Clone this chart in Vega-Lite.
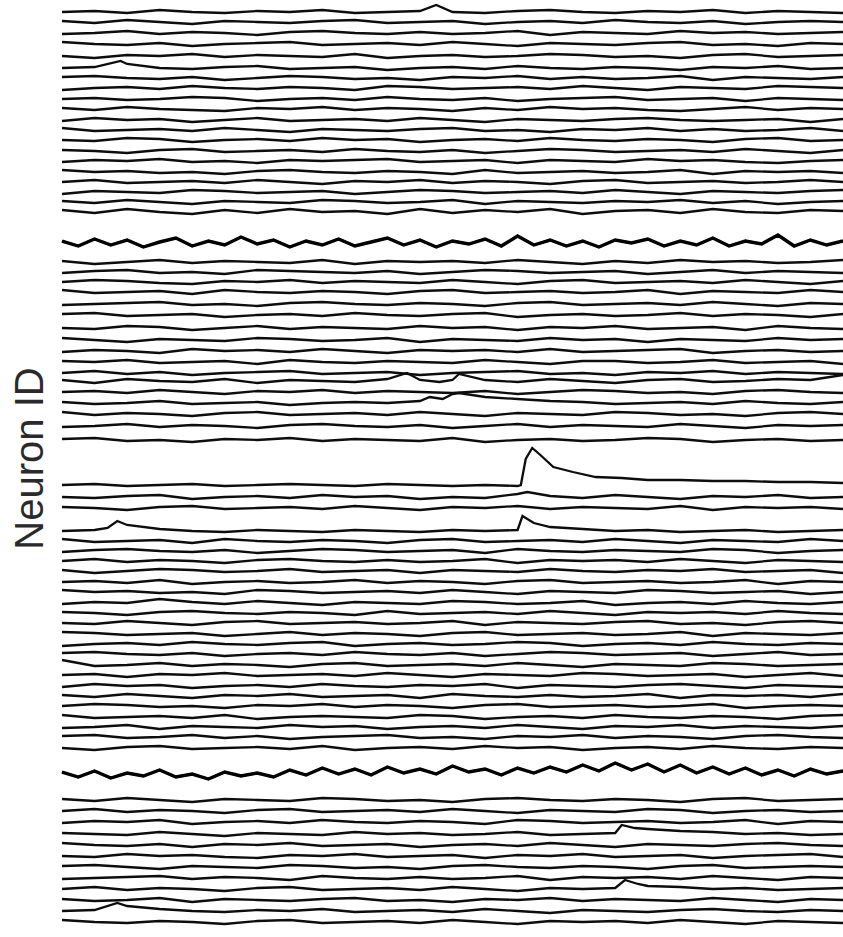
{"$schema":"https://vega.github.io/schema/vega-lite/v6.json","width":781,"height":937,"autosize":"none","padding":{"left":62,"top":0,"right":0,"bottom":0},"background":"white","config":{"view":{"stroke":null}},
"data":{"values":[
{"n":1,"t":0,"v":925},{"n":1,"t":1,"v":926},{"n":1,"t":2,"v":924},{"n":1,"t":3,"v":927},{"n":1,"t":4,"v":925},{"n":1,"t":5,"v":924},{"n":1,"t":6,"v":926},{"n":1,"t":7,"v":925},{"n":1,"t":8,"v":927},{"n":1,"t":9,"v":924},{"n":1,"t":10,"v":925},{"n":1,"t":11,"v":926},{"n":1,"t":11.5,"v":932},{"n":1,"t":12,"v":925},{"n":1,"t":13,"v":924},{"n":1,"t":14,"v":926},{"n":1,"t":15,"v":927},{"n":1,"t":16,"v":925},{"n":1,"t":17,"v":924},{"n":1,"t":18,"v":926},{"n":1,"t":19,"v":925},{"n":1,"t":20,"v":927},{"n":1,"t":21,"v":924},{"n":1,"t":22,"v":926},{"n":1,"t":23,"v":925},{"n":1,"t":24,"v":924},
{"n":2,"t":0,"v":916},{"n":2,"t":1,"v":914},{"n":2,"t":2,"v":917},{"n":2,"t":3,"v":915},{"n":2,"t":4,"v":913},{"n":2,"t":5,"v":916},{"n":2,"t":6,"v":915},{"n":2,"t":7,"v":914},{"n":2,"t":8,"v":916},{"n":2,"t":9,"v":917},{"n":2,"t":10,"v":914},{"n":2,"t":11,"v":915},{"n":2,"t":12,"v":916},{"n":2,"t":13,"v":913},{"n":2,"t":14,"v":915},{"n":2,"t":15,"v":916},{"n":2,"t":16,"v":914},{"n":2,"t":17,"v":917},{"n":2,"t":18,"v":915},{"n":2,"t":19,"v":914},{"n":2,"t":20,"v":916},{"n":2,"t":21,"v":913},{"n":2,"t":22,"v":915},{"n":2,"t":23,"v":916},{"n":2,"t":24,"v":915},
{"n":3,"t":0,"v":903},{"n":3,"t":1,"v":904},{"n":3,"t":2,"v":906},{"n":3,"t":3,"v":903},{"n":3,"t":4,"v":905},{"n":3,"t":5,"v":904},{"n":3,"t":6,"v":902},{"n":3,"t":7,"v":905},{"n":3,"t":8,"v":906},{"n":3,"t":9,"v":904},{"n":3,"t":10,"v":903},{"n":3,"t":11,"v":905},{"n":3,"t":12,"v":903},{"n":3,"t":13,"v":904},{"n":3,"t":14,"v":906},{"n":3,"t":15,"v":902},{"n":3,"t":16,"v":905},{"n":3,"t":17,"v":904},{"n":3,"t":18,"v":903},{"n":3,"t":19,"v":906},{"n":3,"t":20,"v":904},{"n":3,"t":21,"v":905},{"n":3,"t":22,"v":903},{"n":3,"t":23,"v":904},{"n":3,"t":24,"v":905},
{"n":4,"t":0,"v":895},{"n":4,"t":1,"v":893},{"n":4,"t":2,"v":892},{"n":4,"t":3,"v":894},{"n":4,"t":4,"v":891},{"n":4,"t":5,"v":893},{"n":4,"t":6,"v":894},{"n":4,"t":7,"v":895},{"n":4,"t":8,"v":892},{"n":4,"t":9,"v":893},{"n":4,"t":10,"v":894},{"n":4,"t":11,"v":892},{"n":4,"t":12,"v":895},{"n":4,"t":13,"v":893},{"n":4,"t":14,"v":891},{"n":4,"t":15,"v":894},{"n":4,"t":16,"v":893},{"n":4,"t":17,"v":892},{"n":4,"t":18,"v":894},{"n":4,"t":19,"v":895},{"n":4,"t":20,"v":892},{"n":4,"t":21,"v":893},{"n":4,"t":22,"v":891},{"n":4,"t":23,"v":894},{"n":4,"t":24,"v":893},
{"n":5,"t":0,"v":881},{"n":5,"t":1,"v":879},{"n":5,"t":2,"v":882},{"n":5,"t":3,"v":881},{"n":5,"t":4,"v":883},{"n":5,"t":5,"v":880},{"n":5,"t":6,"v":882},{"n":5,"t":7,"v":881},{"n":5,"t":8,"v":880},{"n":5,"t":9,"v":883},{"n":5,"t":10,"v":879},{"n":5,"t":11,"v":881},{"n":5,"t":12,"v":882},{"n":5,"t":13,"v":880},{"n":5,"t":14,"v":881},{"n":5,"t":15,"v":883},{"n":5,"t":16,"v":882},{"n":5,"t":17,"v":880},{"n":5,"t":18,"v":881},{"n":5,"t":19,"v":879},{"n":5,"t":20,"v":882},{"n":5,"t":21,"v":883},{"n":5,"t":22,"v":880},{"n":5,"t":23,"v":881},{"n":5,"t":24,"v":882},
{"n":6,"t":0,"v":869},{"n":6,"t":1,"v":870},{"n":6,"t":1.8,"v":876},{"n":6,"t":2,"v":873},{"n":6,"t":3,"v":869},{"n":6,"t":4,"v":868},{"n":6,"t":5,"v":870},{"n":6,"t":6,"v":871},{"n":6,"t":7,"v":868},{"n":6,"t":8,"v":869},{"n":6,"t":9,"v":870},{"n":6,"t":10,"v":867},{"n":6,"t":11,"v":869},{"n":6,"t":12,"v":870},{"n":6,"t":13,"v":868},{"n":6,"t":14,"v":871},{"n":6,"t":15,"v":869},{"n":6,"t":16,"v":868},{"n":6,"t":17,"v":870},{"n":6,"t":18,"v":869},{"n":6,"t":19,"v":867},{"n":6,"t":20,"v":870},{"n":6,"t":21,"v":869},{"n":6,"t":22,"v":871},{"n":6,"t":23,"v":868},{"n":6,"t":24,"v":869},
{"n":7,"t":0,"v":860},{"n":7,"t":1,"v":861},{"n":7,"t":2,"v":859},{"n":7,"t":3,"v":858},{"n":7,"t":4,"v":860},{"n":7,"t":5,"v":857},{"n":7,"t":6,"v":859},{"n":7,"t":7,"v":861},{"n":7,"t":8,"v":860},{"n":7,"t":9,"v":858},{"n":7,"t":10,"v":859},{"n":7,"t":11,"v":857},{"n":7,"t":12,"v":860},{"n":7,"t":13,"v":859},{"n":7,"t":14,"v":861},{"n":7,"t":15,"v":858},{"n":7,"t":16,"v":860},{"n":7,"t":17,"v":858},{"n":7,"t":18,"v":859},{"n":7,"t":19,"v":861},{"n":7,"t":20,"v":857},{"n":7,"t":21,"v":860},{"n":7,"t":22,"v":859},{"n":7,"t":23,"v":858},{"n":7,"t":24,"v":860},
{"n":8,"t":0,"v":847},{"n":8,"t":1,"v":849},{"n":8,"t":2,"v":850},{"n":8,"t":3,"v":848},{"n":8,"t":4,"v":851},{"n":8,"t":5,"v":849},{"n":8,"t":6,"v":848},{"n":8,"t":7,"v":850},{"n":8,"t":8,"v":849},{"n":8,"t":9,"v":847},{"n":8,"t":10,"v":851},{"n":8,"t":11,"v":850},{"n":8,"t":12,"v":848},{"n":8,"t":13,"v":849},{"n":8,"t":14,"v":850},{"n":8,"t":15,"v":848},{"n":8,"t":16,"v":851},{"n":8,"t":17,"v":849},{"n":8,"t":18,"v":847},{"n":8,"t":19,"v":850},{"n":8,"t":20,"v":849},{"n":8,"t":21,"v":848},{"n":8,"t":22,"v":851},{"n":8,"t":23,"v":850},{"n":8,"t":24,"v":849},
{"n":9,"t":0,"v":838},{"n":9,"t":1,"v":839},{"n":9,"t":2,"v":837},{"n":9,"t":3,"v":838},{"n":9,"t":4,"v":840},{"n":9,"t":5,"v":839},{"n":9,"t":6,"v":836},{"n":9,"t":7,"v":838},{"n":9,"t":8,"v":839},{"n":9,"t":9,"v":837},{"n":9,"t":10,"v":840},{"n":9,"t":11,"v":838},{"n":9,"t":12,"v":837},{"n":9,"t":13,"v":839},{"n":9,"t":14,"v":836},{"n":9,"t":15,"v":838},{"n":9,"t":16,"v":839},{"n":9,"t":17,"v":840},{"n":9,"t":18,"v":837},{"n":9,"t":19,"v":838},{"n":9,"t":20,"v":839},{"n":9,"t":21,"v":836},{"n":9,"t":22,"v":839},{"n":9,"t":23,"v":838},{"n":9,"t":24,"v":837},
{"n":10,"t":0,"v":829},{"n":10,"t":1,"v":827},{"n":10,"t":2,"v":830},{"n":10,"t":3,"v":828},{"n":10,"t":4,"v":827},{"n":10,"t":5,"v":826},{"n":10,"t":6,"v":829},{"n":10,"t":7,"v":828},{"n":10,"t":8,"v":830},{"n":10,"t":9,"v":827},{"n":10,"t":10,"v":829},{"n":10,"t":11,"v":828},{"n":10,"t":12,"v":826},{"n":10,"t":13,"v":829},{"n":10,"t":14,"v":827},{"n":10,"t":15,"v":830},{"n":10,"t":16,"v":828},{"n":10,"t":17,"v":829},{"n":10,"t":18,"v":827},{"n":10,"t":19,"v":826},{"n":10,"t":20,"v":828},{"n":10,"t":21,"v":830},{"n":10,"t":22,"v":827},{"n":10,"t":23,"v":829},{"n":10,"t":24,"v":828},
{"n":11,"t":0,"v":816},{"n":11,"t":1,"v":819},{"n":11,"t":2,"v":817},{"n":11,"t":3,"v":818},{"n":11,"t":4,"v":815},{"n":11,"t":5,"v":817},{"n":11,"t":6,"v":819},{"n":11,"t":7,"v":816},{"n":11,"t":8,"v":817},{"n":11,"t":9,"v":818},{"n":11,"t":10,"v":816},{"n":11,"t":11,"v":819},{"n":11,"t":12,"v":817},{"n":11,"t":13,"v":815},{"n":11,"t":14,"v":818},{"n":11,"t":15,"v":817},{"n":11,"t":16,"v":816},{"n":11,"t":17,"v":818},{"n":11,"t":18,"v":819},{"n":11,"t":19,"v":817},{"n":11,"t":20,"v":816},{"n":11,"t":21,"v":817},{"n":11,"t":22,"v":818},{"n":11,"t":23,"v":815},{"n":11,"t":24,"v":818},
{"n":12,"t":0,"v":809},{"n":12,"t":1,"v":806},{"n":12,"t":2,"v":807},{"n":12,"t":3,"v":808},{"n":12,"t":4,"v":806},{"n":12,"t":5,"v":809},{"n":12,"t":6,"v":807},{"n":12,"t":7,"v":805},{"n":12,"t":8,"v":808},{"n":12,"t":9,"v":807},{"n":12,"t":10,"v":806},{"n":12,"t":11,"v":808},{"n":12,"t":12,"v":809},{"n":12,"t":13,"v":806},{"n":12,"t":14,"v":807},{"n":12,"t":15,"v":805},{"n":12,"t":16,"v":808},{"n":12,"t":17,"v":807},{"n":12,"t":18,"v":809},{"n":12,"t":19,"v":806},{"n":12,"t":20,"v":808},{"n":12,"t":21,"v":806},{"n":12,"t":22,"v":807},{"n":12,"t":23,"v":809},{"n":12,"t":24,"v":806},
{"n":13,"t":0,"v":797},{"n":13,"t":1,"v":796},{"n":13,"t":2,"v":799},{"n":13,"t":3,"v":798},{"n":13,"t":4,"v":795},{"n":13,"t":5,"v":797},{"n":13,"t":6,"v":798},{"n":13,"t":7,"v":796},{"n":13,"t":8,"v":799},{"n":13,"t":9,"v":797},{"n":13,"t":10,"v":798},{"n":13,"t":11,"v":795},{"n":13,"t":12,"v":797},{"n":13,"t":13,"v":798},{"n":13,"t":14,"v":796},{"n":13,"t":15,"v":799},{"n":13,"t":16,"v":797},{"n":13,"t":17,"v":796},{"n":13,"t":18,"v":798},{"n":13,"t":19,"v":797},{"n":13,"t":20,"v":795},{"n":13,"t":21,"v":798},{"n":13,"t":22,"v":799},{"n":13,"t":23,"v":796},{"n":13,"t":24,"v":797},
{"n":14,"t":0,"v":787},{"n":14,"t":1,"v":786},{"n":14,"t":2,"v":784},{"n":14,"t":3,"v":787},{"n":14,"t":4,"v":788},{"n":14,"t":5,"v":785},{"n":14,"t":6,"v":786},{"n":14,"t":7,"v":787},{"n":14,"t":8,"v":785},{"n":14,"t":9,"v":788},{"n":14,"t":10,"v":786},{"n":14,"t":11,"v":785},{"n":14,"t":12,"v":787},{"n":14,"t":13,"v":784},{"n":14,"t":14,"v":786},{"n":14,"t":15,"v":788},{"n":14,"t":16,"v":787},{"n":14,"t":17,"v":785},{"n":14,"t":18,"v":786},{"n":14,"t":19,"v":787},{"n":14,"t":20,"v":785},{"n":14,"t":21,"v":788},{"n":14,"t":22,"v":786},{"n":14,"t":23,"v":784},{"n":14,"t":24,"v":787},
{"n":15,"t":0,"v":775},{"n":15,"t":1,"v":777},{"n":15,"t":2,"v":776},{"n":15,"t":3,"v":778},{"n":15,"t":4,"v":775},{"n":15,"t":5,"v":776},{"n":15,"t":6,"v":774},{"n":15,"t":7,"v":777},{"n":15,"t":8,"v":776},{"n":15,"t":9,"v":777},{"n":15,"t":10,"v":778},{"n":15,"t":11,"v":775},{"n":15,"t":12,"v":776},{"n":15,"t":13,"v":777},{"n":15,"t":14,"v":774},{"n":15,"t":15,"v":777},{"n":15,"t":16,"v":776},{"n":15,"t":17,"v":775},{"n":15,"t":18,"v":778},{"n":15,"t":19,"v":776},{"n":15,"t":20,"v":777},{"n":15,"t":21,"v":775},{"n":15,"t":22,"v":774},{"n":15,"t":23,"v":776},{"n":15,"t":24,"v":777},
{"n":16,"t":0,"v":767},{"n":16,"t":1,"v":765},{"n":16,"t":2,"v":766},{"n":16,"t":3,"v":764},{"n":16,"t":4,"v":765},{"n":16,"t":5,"v":763},{"n":16,"t":6,"v":766},{"n":16,"t":7,"v":767},{"n":16,"t":8,"v":765},{"n":16,"t":9,"v":764},{"n":16,"t":10,"v":766},{"n":16,"t":11,"v":765},{"n":16,"t":12,"v":763},{"n":16,"t":13,"v":767},{"n":16,"t":14,"v":764},{"n":16,"t":15,"v":765},{"n":16,"t":16,"v":766},{"n":16,"t":17,"v":764},{"n":16,"t":18,"v":765},{"n":16,"t":19,"v":767},{"n":16,"t":20,"v":763},{"n":16,"t":21,"v":766},{"n":16,"t":22,"v":765},{"n":16,"t":23,"v":766},{"n":16,"t":24,"v":764},
{"n":17,"t":0,"v":755},{"n":17,"t":1,"v":757},{"n":17,"t":2,"v":754},{"n":17,"t":3,"v":755},{"n":17,"t":4,"v":756},{"n":17,"t":5,"v":754},{"n":17,"t":6,"v":757},{"n":17,"t":7,"v":755},{"n":17,"t":8,"v":753},{"n":17,"t":9,"v":756},{"n":17,"t":10,"v":755},{"n":17,"t":11,"v":757},{"n":17,"t":12,"v":754},{"n":17,"t":13,"v":756},{"n":17,"t":14,"v":755},{"n":17,"t":15,"v":753},{"n":17,"t":16,"v":756},{"n":17,"t":17,"v":757},{"n":17,"t":18,"v":754},{"n":17,"t":19,"v":755},{"n":17,"t":20,"v":756},{"n":17,"t":21,"v":754},{"n":17,"t":22,"v":755},{"n":17,"t":23,"v":757},{"n":17,"t":24,"v":755},
{"n":18,"t":0,"v":743},{"n":18,"t":1,"v":746},{"n":18,"t":2,"v":745},{"n":18,"t":3,"v":744},{"n":18,"t":4,"v":747},{"n":18,"t":5,"v":746},{"n":18,"t":6,"v":744},{"n":18,"t":7,"v":745},{"n":18,"t":8,"v":746},{"n":18,"t":9,"v":743},{"n":18,"t":10,"v":745},{"n":18,"t":11,"v":747},{"n":18,"t":12,"v":746},{"n":18,"t":13,"v":744},{"n":18,"t":14,"v":745},{"n":18,"t":15,"v":746},{"n":18,"t":16,"v":744},{"n":18,"t":17,"v":747},{"n":18,"t":18,"v":745},{"n":18,"t":19,"v":743},{"n":18,"t":20,"v":746},{"n":18,"t":21,"v":745},{"n":18,"t":22,"v":744},{"n":18,"t":23,"v":746},{"n":18,"t":24,"v":747},
{"n":19,"t":0,"v":736},{"n":19,"t":1,"v":734},{"n":19,"t":2,"v":737},{"n":19,"t":3,"v":735},{"n":19,"t":4,"v":733},{"n":19,"t":5,"v":736},{"n":19,"t":6,"v":735},{"n":19,"t":7,"v":734},{"n":19,"t":8,"v":737},{"n":19,"t":9,"v":736},{"n":19,"t":10,"v":734},{"n":19,"t":11,"v":735},{"n":19,"t":12,"v":737},{"n":19,"t":13,"v":733},{"n":19,"t":14,"v":736},{"n":19,"t":15,"v":735},{"n":19,"t":16,"v":734},{"n":19,"t":17,"v":736},{"n":19,"t":18,"v":735},{"n":19,"t":19,"v":737},{"n":19,"t":20,"v":734},{"n":19,"t":21,"v":736},{"n":19,"t":22,"v":733},{"n":19,"t":23,"v":735},{"n":19,"t":24,"v":736},
{"n":20,"t":0,"v":727},{"n":20,"t":1,"v":724},{"n":20,"t":2,"v":728},{"n":20,"t":3,"v":725},{"n":20,"t":4,"v":723},{"n":20,"t":5,"v":727},{"n":20,"t":6,"v":724},{"n":20,"t":7,"v":728},{"n":20,"t":8,"v":725},{"n":20,"t":9,"v":726},{"n":20,"t":10,"v":723},{"n":20,"t":11,"v":728},{"n":20,"t":12,"v":724},{"n":20,"t":13,"v":727},{"n":20,"t":14,"v":725},{"n":20,"t":15,"v":728},{"n":20,"t":16,"v":723},{"n":20,"t":17,"v":726},{"n":20,"t":18,"v":727},{"n":20,"t":19,"v":724},{"n":20,"t":20,"v":728},{"n":20,"t":21,"v":725},{"n":20,"t":22,"v":724},{"n":20,"t":23,"v":727},{"n":20,"t":24,"v":726},
{"n":21,"t":0,"v":696},{"n":21,"t":0.5,"v":691},{"n":21,"t":1,"v":698},{"n":21,"t":1.5,"v":692},{"n":21,"t":2,"v":697},{"n":21,"t":2.5,"v":690},{"n":21,"t":3,"v":695},{"n":21,"t":3.5,"v":699},{"n":21,"t":4,"v":691},{"n":21,"t":4.5,"v":696},{"n":21,"t":5,"v":692},{"n":21,"t":5.5,"v":700},{"n":21,"t":6,"v":693},{"n":21,"t":6.5,"v":697},{"n":21,"t":7,"v":690},{"n":21,"t":7.5,"v":696},{"n":21,"t":8,"v":692},{"n":21,"t":8.5,"v":698},{"n":21,"t":9,"v":691},{"n":21,"t":9.5,"v":695},{"n":21,"t":10,"v":699},{"n":21,"t":10.5,"v":692},{"n":21,"t":11,"v":697},{"n":21,"t":11.5,"v":690},{"n":21,"t":12,"v":696},{"n":21,"t":12.5,"v":693},{"n":21,"t":13,"v":698},{"n":21,"t":13.5,"v":691},{"n":21,"t":14,"v":701},{"n":21,"t":14.5,"v":692},{"n":21,"t":15,"v":697},{"n":21,"t":15.5,"v":691},{"n":21,"t":16,"v":696},{"n":21,"t":16.5,"v":690},{"n":21,"t":17,"v":697},{"n":21,"t":17.5,"v":694},{"n":21,"t":18,"v":698},{"n":21,"t":18.5,"v":691},{"n":21,"t":19,"v":696},{"n":21,"t":19.5,"v":692},{"n":21,"t":20,"v":699},{"n":21,"t":20.5,"v":691},{"n":21,"t":21,"v":696},{"n":21,"t":21.5,"v":693},{"n":21,"t":22,"v":702},{"n":21,"t":22.5,"v":691},{"n":21,"t":23,"v":697},{"n":21,"t":23.5,"v":692},{"n":21,"t":24,"v":696},
{"n":22,"t":0,"v":676},{"n":22,"t":1,"v":673},{"n":22,"t":2,"v":675},{"n":22,"t":3,"v":677},{"n":22,"t":4,"v":674},{"n":22,"t":5,"v":676},{"n":22,"t":6,"v":675},{"n":22,"t":7,"v":674},{"n":22,"t":8,"v":677},{"n":22,"t":9,"v":673},{"n":22,"t":10,"v":676},{"n":22,"t":11,"v":675},{"n":22,"t":12,"v":676},{"n":22,"t":13,"v":674},{"n":22,"t":14,"v":677},{"n":22,"t":15,"v":675},{"n":22,"t":16,"v":673},{"n":22,"t":17,"v":676},{"n":22,"t":18,"v":674},{"n":22,"t":19,"v":677},{"n":22,"t":20,"v":675},{"n":22,"t":21,"v":676},{"n":22,"t":22,"v":674},{"n":22,"t":23,"v":675},{"n":22,"t":24,"v":677},
{"n":23,"t":0,"v":664},{"n":23,"t":1,"v":666},{"n":23,"t":2,"v":667},{"n":23,"t":3,"v":664},{"n":23,"t":4,"v":665},{"n":23,"t":5,"v":663},{"n":23,"t":6,"v":667},{"n":23,"t":7,"v":666},{"n":23,"t":8,"v":665},{"n":23,"t":9,"v":664},{"n":23,"t":10,"v":666},{"n":23,"t":11,"v":663},{"n":23,"t":12,"v":665},{"n":23,"t":13,"v":667},{"n":23,"t":14,"v":666},{"n":23,"t":15,"v":664},{"n":23,"t":16,"v":665},{"n":23,"t":17,"v":666},{"n":23,"t":18,"v":663},{"n":23,"t":19,"v":665},{"n":23,"t":20,"v":667},{"n":23,"t":21,"v":664},{"n":23,"t":22,"v":666},{"n":23,"t":23,"v":665},{"n":23,"t":24,"v":664},
{"n":24,"t":0,"v":655},{"n":24,"t":1,"v":657},{"n":24,"t":2,"v":656},{"n":24,"t":3,"v":654},{"n":24,"t":4,"v":653},{"n":24,"t":5,"v":656},{"n":24,"t":6,"v":655},{"n":24,"t":7,"v":657},{"n":24,"t":8,"v":654},{"n":24,"t":9,"v":656},{"n":24,"t":10,"v":655},{"n":24,"t":11,"v":654},{"n":24,"t":12,"v":657},{"n":24,"t":13,"v":655},{"n":24,"t":14,"v":653},{"n":24,"t":15,"v":656},{"n":24,"t":16,"v":657},{"n":24,"t":17,"v":654},{"n":24,"t":18,"v":655},{"n":24,"t":19,"v":656},{"n":24,"t":20,"v":654},{"n":24,"t":21,"v":657},{"n":24,"t":22,"v":655},{"n":24,"t":23,"v":653},{"n":24,"t":24,"v":656},
{"n":25,"t":0,"v":647},{"n":25,"t":1,"v":644},{"n":25,"t":2,"v":645},{"n":25,"t":3,"v":646},{"n":25,"t":4,"v":643},{"n":25,"t":5,"v":647},{"n":25,"t":6,"v":645},{"n":25,"t":7,"v":644},{"n":25,"t":8,"v":646},{"n":25,"t":9,"v":645},{"n":25,"t":10,"v":643},{"n":25,"t":11,"v":646},{"n":25,"t":12,"v":647},{"n":25,"t":13,"v":644},{"n":25,"t":14,"v":645},{"n":25,"t":15,"v":646},{"n":25,"t":16,"v":644},{"n":25,"t":17,"v":645},{"n":25,"t":18,"v":647},{"n":25,"t":19,"v":643},{"n":25,"t":20,"v":646},{"n":25,"t":21,"v":645},{"n":25,"t":22,"v":644},{"n":25,"t":23,"v":647},{"n":25,"t":24,"v":645},
{"n":26,"t":0,"v":632},{"n":26,"t":1,"v":633},{"n":26,"t":2,"v":634},{"n":26,"t":3,"v":635},{"n":26,"t":4,"v":632},{"n":26,"t":5,"v":633},{"n":26,"t":6,"v":631},{"n":26,"t":7,"v":634},{"n":26,"t":8,"v":635},{"n":26,"t":9,"v":633},{"n":26,"t":10,"v":632},{"n":26,"t":11,"v":634},{"n":26,"t":12,"v":633},{"n":26,"t":13,"v":631},{"n":26,"t":14,"v":634},{"n":26,"t":15,"v":635},{"n":26,"t":16,"v":632},{"n":26,"t":17,"v":633},{"n":26,"t":18,"v":634},{"n":26,"t":19,"v":632},{"n":26,"t":20,"v":635},{"n":26,"t":21,"v":633},{"n":26,"t":22,"v":631},{"n":26,"t":23,"v":634},{"n":26,"t":24,"v":633},
{"n":27,"t":0,"v":623},{"n":27,"t":1,"v":624},{"n":27,"t":2,"v":621},{"n":27,"t":3,"v":622},{"n":27,"t":4,"v":623},{"n":27,"t":5,"v":620},{"n":27,"t":6,"v":622},{"n":27,"t":7,"v":623},{"n":27,"t":8,"v":621},{"n":27,"t":9,"v":624},{"n":27,"t":10,"v":622},{"n":27,"t":11,"v":621},{"n":27,"t":12,"v":623},{"n":27,"t":13,"v":624},{"n":27,"t":14,"v":620},{"n":27,"t":15,"v":622},{"n":27,"t":16,"v":623},{"n":27,"t":17,"v":621},{"n":27,"t":18,"v":622},{"n":27,"t":19,"v":624},{"n":27,"t":20,"v":621},{"n":27,"t":21,"v":623},{"n":27,"t":22,"v":622},{"n":27,"t":23,"v":620},{"n":27,"t":24,"v":623},
{"n":28,"t":0,"v":609},{"n":28,"t":1,"v":608},{"n":28,"t":2,"v":611},{"n":28,"t":3,"v":610},{"n":28,"t":4,"v":607},{"n":28,"t":5,"v":609},{"n":28,"t":6,"v":611},{"n":28,"t":7,"v":608},{"n":28,"t":8,"v":610},{"n":28,"t":9,"v":609},{"n":28,"t":10,"v":608},{"n":28,"t":11,"v":611},{"n":28,"t":12,"v":609},{"n":28,"t":13,"v":610},{"n":28,"t":14,"v":607},{"n":28,"t":15,"v":610},{"n":28,"t":16,"v":609},{"n":28,"t":17,"v":611},{"n":28,"t":18,"v":608},{"n":28,"t":19,"v":609},{"n":28,"t":20,"v":610},{"n":28,"t":21,"v":607},{"n":28,"t":22,"v":611},{"n":28,"t":23,"v":609},{"n":28,"t":24,"v":608},
{"n":29,"t":0,"v":599},{"n":29,"t":1,"v":597},{"n":29,"t":2,"v":595},{"n":29,"t":3,"v":598},{"n":29,"t":4,"v":597},{"n":29,"t":5,"v":596},{"n":29,"t":6,"v":599},{"n":29,"t":7,"v":598},{"n":29,"t":8,"v":596},{"n":29,"t":9,"v":597},{"n":29,"t":10,"v":599},{"n":29,"t":11,"v":595},{"n":29,"t":12,"v":598},{"n":29,"t":13,"v":597},{"n":29,"t":14,"v":596},{"n":29,"t":15,"v":599},{"n":29,"t":16,"v":597},{"n":29,"t":17,"v":598},{"n":29,"t":18,"v":595},{"n":29,"t":19,"v":598},{"n":29,"t":20,"v":597},{"n":29,"t":21,"v":596},{"n":29,"t":22,"v":599},{"n":29,"t":23,"v":597},{"n":29,"t":24,"v":598},
{"n":30,"t":0,"v":585},{"n":30,"t":1,"v":587},{"n":30,"t":2,"v":586},{"n":30,"t":3,"v":584},{"n":30,"t":4,"v":588},{"n":30,"t":5,"v":586},{"n":30,"t":6,"v":587},{"n":30,"t":7,"v":585},{"n":30,"t":8,"v":588},{"n":30,"t":9,"v":586},{"n":30,"t":10,"v":584},{"n":30,"t":11,"v":587},{"n":30,"t":12,"v":586},{"n":30,"t":13,"v":587},{"n":30,"t":14,"v":585},{"n":30,"t":15,"v":588},{"n":30,"t":16,"v":585},{"n":30,"t":17,"v":586},{"n":30,"t":18,"v":587},{"n":30,"t":19,"v":588},{"n":30,"t":20,"v":584},{"n":30,"t":21,"v":586},{"n":30,"t":22,"v":587},{"n":30,"t":23,"v":585},{"n":30,"t":24,"v":586},
{"n":31,"t":0,"v":576},{"n":31,"t":1,"v":575},{"n":31,"t":2,"v":577},{"n":31,"t":3,"v":574},{"n":31,"t":4,"v":575},{"n":31,"t":5,"v":576},{"n":31,"t":6,"v":573},{"n":31,"t":7,"v":577},{"n":31,"t":8,"v":575},{"n":31,"t":9,"v":574},{"n":31,"t":10,"v":576},{"n":31,"t":11,"v":575},{"n":31,"t":12,"v":574},{"n":31,"t":13,"v":577},{"n":31,"t":14,"v":575},{"n":31,"t":15,"v":573},{"n":31,"t":16,"v":576},{"n":31,"t":17,"v":576},{"n":31,"t":18,"v":574},{"n":31,"t":19,"v":575},{"n":31,"t":20,"v":577},{"n":31,"t":21,"v":574},{"n":31,"t":22,"v":575},{"n":31,"t":23,"v":576},{"n":31,"t":24,"v":573},
{"n":32,"t":0,"v":564},{"n":32,"t":1,"v":566},{"n":32,"t":2,"v":563},{"n":32,"t":3,"v":565},{"n":32,"t":4,"v":562},{"n":32,"t":5,"v":564},{"n":32,"t":6,"v":565},{"n":32,"t":7,"v":566},{"n":32,"t":8,"v":563},{"n":32,"t":9,"v":564},{"n":32,"t":10,"v":565},{"n":32,"t":11,"v":562},{"n":32,"t":12,"v":564},{"n":32,"t":13,"v":565},{"n":32,"t":14,"v":566},{"n":32,"t":15,"v":563},{"n":32,"t":16,"v":564},{"n":32,"t":17,"v":562},{"n":32,"t":18,"v":565},{"n":32,"t":19,"v":564},{"n":32,"t":20,"v":566},{"n":32,"t":21,"v":563},{"n":32,"t":22,"v":565},{"n":32,"t":23,"v":564},{"n":32,"t":24,"v":563},
{"n":33,"t":0,"v":557},{"n":33,"t":1,"v":554},{"n":33,"t":2,"v":558},{"n":33,"t":3,"v":556},{"n":33,"t":4,"v":555},{"n":33,"t":5,"v":558},{"n":33,"t":6,"v":554},{"n":33,"t":7,"v":557},{"n":33,"t":8,"v":556},{"n":33,"t":9,"v":555},{"n":33,"t":10,"v":558},{"n":33,"t":10.6,"v":564},{"n":33,"t":11,"v":557},{"n":33,"t":11.6,"v":555},{"n":33,"t":12,"v":557},{"n":33,"t":12.2,"v":563},{"n":33,"t":13,"v":557},{"n":33,"t":14,"v":555},{"n":33,"t":15,"v":558},{"n":33,"t":16,"v":556},{"n":33,"t":17,"v":554},{"n":33,"t":18,"v":557},{"n":33,"t":19,"v":558},{"n":33,"t":20,"v":555},{"n":33,"t":21,"v":556},{"n":33,"t":22,"v":558},{"n":33,"t":23,"v":557},{"n":33,"t":24,"v":562},
{"n":34,"t":0,"v":545},{"n":34,"t":1,"v":546},{"n":34,"t":2,"v":544},{"n":34,"t":3,"v":547},{"n":34,"t":4,"v":545},{"n":34,"t":5,"v":543},{"n":34,"t":6,"v":546},{"n":34,"t":7,"v":545},{"n":34,"t":8,"v":547},{"n":34,"t":9,"v":544},{"n":34,"t":10,"v":546},{"n":34,"t":11,"v":545},{"n":34,"t":12,"v":544},{"n":34,"t":13,"v":546},{"n":34,"t":14,"v":543},{"n":34,"t":15,"v":545},{"n":34,"t":16,"v":547},{"n":34,"t":17,"v":546},{"n":34,"t":18,"v":544},{"n":34,"t":19,"v":545},{"n":34,"t":20,"v":543},{"n":34,"t":21,"v":546},{"n":34,"t":22,"v":547},{"n":34,"t":23,"v":545},{"n":34,"t":24,"v":544},
{"n":35,"t":0,"v":535},{"n":35,"t":1,"v":533},{"n":35,"t":2,"v":534},{"n":35,"t":3,"v":536},{"n":35,"t":4,"v":533},{"n":35,"t":5,"v":534},{"n":35,"t":6,"v":535},{"n":35,"t":7,"v":532},{"n":35,"t":8,"v":534},{"n":35,"t":9,"v":535},{"n":35,"t":10,"v":534},{"n":35,"t":11,"v":536},{"n":35,"t":11.3,"v":540},{"n":35,"t":11.7,"v":538},{"n":35,"t":12,"v":543},{"n":35,"t":12.2,"v":544},{"n":35,"t":13,"v":540},{"n":35,"t":14,"v":538},{"n":35,"t":15,"v":536},{"n":35,"t":16,"v":535},{"n":35,"t":17,"v":533},{"n":35,"t":18,"v":534},{"n":35,"t":19,"v":535},{"n":35,"t":20,"v":533},{"n":35,"t":21,"v":536},{"n":35,"t":22,"v":534},{"n":35,"t":23,"v":533},{"n":35,"t":24,"v":535},
{"n":36,"t":0,"v":525},{"n":36,"t":1,"v":522},{"n":36,"t":2,"v":524},{"n":36,"t":3,"v":523},{"n":36,"t":4,"v":521},{"n":36,"t":5,"v":524},{"n":36,"t":6,"v":525},{"n":36,"t":7,"v":522},{"n":36,"t":8,"v":523},{"n":36,"t":9,"v":524},{"n":36,"t":10,"v":522},{"n":36,"t":11,"v":525},{"n":36,"t":12,"v":523},{"n":36,"t":13,"v":521},{"n":36,"t":14,"v":524},{"n":36,"t":15,"v":523},{"n":36,"t":16,"v":522},{"n":36,"t":17,"v":525},{"n":36,"t":18,"v":524},{"n":36,"t":19,"v":522},{"n":36,"t":20,"v":523},{"n":36,"t":21,"v":521},{"n":36,"t":22,"v":524},{"n":36,"t":23,"v":525},{"n":36,"t":24,"v":523},
{"n":37,"t":0,"v":510},{"n":37,"t":1,"v":511},{"n":37,"t":2,"v":513},{"n":37,"t":3,"v":510},{"n":37,"t":4,"v":512},{"n":37,"t":5,"v":511},{"n":37,"t":6,"v":509},{"n":37,"t":7,"v":512},{"n":37,"t":8,"v":513},{"n":37,"t":9,"v":511},{"n":37,"t":10,"v":510},{"n":37,"t":11,"v":512},{"n":37,"t":12,"v":509},{"n":37,"t":13,"v":511},{"n":37,"t":14,"v":513},{"n":37,"t":15,"v":510},{"n":37,"t":16,"v":512},{"n":37,"t":17,"v":511},{"n":37,"t":18,"v":510},{"n":37,"t":19,"v":513},{"n":37,"t":20,"v":511},{"n":37,"t":21,"v":509},{"n":37,"t":22,"v":512},{"n":37,"t":23,"v":511},{"n":37,"t":24,"v":512},
{"n":38,"t":0,"v":498},{"n":38,"t":1,"v":499},{"n":38,"t":2,"v":496},{"n":38,"t":3,"v":497},{"n":38,"t":4,"v":495},{"n":38,"t":5,"v":498},{"n":38,"t":6,"v":497},{"n":38,"t":7,"v":499},{"n":38,"t":8,"v":496},{"n":38,"t":9,"v":498},{"n":38,"t":10,"v":497},{"n":38,"t":11,"v":496},{"n":38,"t":12,"v":499},{"n":38,"t":13,"v":495},{"n":38,"t":14,"v":497},{"n":38,"t":15,"v":498},{"n":38,"t":16,"v":496},{"n":38,"t":17,"v":497},{"n":38,"t":18,"v":499},{"n":38,"t":19,"v":498},{"n":38,"t":20,"v":495},{"n":38,"t":21,"v":497},{"n":38,"t":22,"v":498},{"n":38,"t":23,"v":496},{"n":38,"t":24,"v":497},
{"n":39,"t":0,"v":452},{"n":39,"t":1,"v":453},{"n":39,"t":2,"v":451},{"n":39,"t":3,"v":452},{"n":39,"t":4,"v":453},{"n":39,"t":5,"v":451},{"n":39,"t":6,"v":452},{"n":39,"t":7,"v":453},{"n":39,"t":8,"v":452},{"n":39,"t":9,"v":451},{"n":39,"t":10,"v":453},{"n":39,"t":11,"v":452},{"n":39,"t":12,"v":451},{"n":39,"t":13,"v":452},{"n":39,"t":14,"v":451},{"n":39,"t":14.1,"v":452},{"n":39,"t":14.25,"v":478},{"n":39,"t":14.45,"v":489},{"n":39,"t":14.7,"v":482},{"n":39,"t":15.1,"v":470},{"n":39,"t":15.7,"v":465},{"n":39,"t":16.4,"v":460},{"n":39,"t":17.2,"v":459},{"n":39,"t":18,"v":457},{"n":39,"t":19,"v":457},{"n":39,"t":20,"v":456},{"n":39,"t":21,"v":456},{"n":39,"t":22,"v":455},{"n":39,"t":23,"v":455},{"n":39,"t":24,"v":454},
{"n":40,"t":0,"v":440},{"n":40,"t":1,"v":439},{"n":40,"t":2,"v":441},{"n":40,"t":3,"v":442},{"n":40,"t":4,"v":438},{"n":40,"t":5,"v":440},{"n":40,"t":6,"v":441},{"n":40,"t":7,"v":439},{"n":40,"t":8,"v":442},{"n":40,"t":9,"v":440},{"n":40,"t":10,"v":441},{"n":40,"t":11,"v":438},{"n":40,"t":12,"v":440},{"n":40,"t":13,"v":439},{"n":40,"t":14,"v":443},{"n":40,"t":14.3,"v":445},{"n":40,"t":15,"v":441},{"n":40,"t":16,"v":439},{"n":40,"t":17,"v":442},{"n":40,"t":18,"v":440},{"n":40,"t":19,"v":438},{"n":40,"t":20,"v":441},{"n":40,"t":21,"v":440},{"n":40,"t":22,"v":442},{"n":40,"t":23,"v":439},{"n":40,"t":24,"v":440},
{"n":41,"t":0,"v":430},{"n":41,"t":1,"v":429},{"n":41,"t":2,"v":427},{"n":41,"t":3,"v":430},{"n":41,"t":4,"v":431},{"n":41,"t":5,"v":428},{"n":41,"t":6,"v":429},{"n":41,"t":7,"v":430},{"n":41,"t":8,"v":428},{"n":41,"t":9,"v":431},{"n":41,"t":10,"v":429},{"n":41,"t":11,"v":427},{"n":41,"t":12,"v":430},{"n":41,"t":13,"v":429},{"n":41,"t":14,"v":431},{"n":41,"t":15,"v":428},{"n":41,"t":16,"v":430},{"n":41,"t":17,"v":429},{"n":41,"t":18,"v":428},{"n":41,"t":19,"v":431},{"n":41,"t":20,"v":427},{"n":41,"t":21,"v":430},{"n":41,"t":22,"v":429},{"n":41,"t":23,"v":430},{"n":41,"t":24,"v":428},
{"n":42,"t":0,"v":406},{"n":42,"t":1,"v":407},{"n":42,"t":1.4,"v":409},{"n":42,"t":1.7,"v":416},{"n":42,"t":2,"v":412},{"n":42,"t":3,"v":408},{"n":42,"t":4,"v":406},{"n":42,"t":5,"v":405},{"n":42,"t":6,"v":407},{"n":42,"t":7,"v":406},{"n":42,"t":8,"v":405},{"n":42,"t":9,"v":407},{"n":42,"t":10,"v":406},{"n":42,"t":11,"v":405},{"n":42,"t":12,"v":407},{"n":42,"t":13,"v":406},{"n":42,"t":14,"v":407},{"n":42,"t":14.15,"v":421},{"n":42,"t":14.5,"v":414},{"n":42,"t":15,"v":410},{"n":42,"t":16,"v":408},{"n":42,"t":17,"v":406},{"n":42,"t":18,"v":407},{"n":42,"t":19,"v":405},{"n":42,"t":20,"v":406},{"n":42,"t":21,"v":407},{"n":42,"t":22,"v":405},{"n":42,"t":23,"v":406},{"n":42,"t":24,"v":407},
{"n":43,"t":0,"v":398},{"n":43,"t":1,"v":395},{"n":43,"t":2,"v":396},{"n":43,"t":3,"v":397},{"n":43,"t":4,"v":394},{"n":43,"t":5,"v":398},{"n":43,"t":6,"v":396},{"n":43,"t":7,"v":395},{"n":43,"t":8,"v":397},{"n":43,"t":9,"v":396},{"n":43,"t":10,"v":394},{"n":43,"t":11,"v":397},{"n":43,"t":12,"v":398},{"n":43,"t":13,"v":395},{"n":43,"t":14,"v":396},{"n":43,"t":15,"v":397},{"n":43,"t":16,"v":395},{"n":43,"t":17,"v":398},{"n":43,"t":18,"v":396},{"n":43,"t":19,"v":394},{"n":43,"t":20,"v":397},{"n":43,"t":21,"v":396},{"n":43,"t":22,"v":395},{"n":43,"t":23,"v":398},{"n":43,"t":24,"v":396},
{"n":44,"t":0,"v":385},{"n":44,"t":1,"v":387},{"n":44,"t":2,"v":388},{"n":44,"t":3,"v":386},{"n":44,"t":4,"v":385},{"n":44,"t":5,"v":387},{"n":44,"t":6,"v":384},{"n":44,"t":7,"v":386},{"n":44,"t":8,"v":388},{"n":44,"t":9,"v":387},{"n":44,"t":10,"v":385},{"n":44,"t":11,"v":386},{"n":44,"t":12,"v":387},{"n":44,"t":13,"v":384},{"n":44,"t":14,"v":388},{"n":44,"t":15,"v":386},{"n":44,"t":16,"v":385},{"n":44,"t":17,"v":387},{"n":44,"t":18,"v":386},{"n":44,"t":19,"v":385},{"n":44,"t":20,"v":388},{"n":44,"t":21,"v":387},{"n":44,"t":22,"v":384},{"n":44,"t":23,"v":386},{"n":44,"t":24,"v":387},
{"n":45,"t":0,"v":376},{"n":45,"t":1,"v":378},{"n":45,"t":2,"v":375},{"n":45,"t":3,"v":377},{"n":45,"t":4,"v":376},{"n":45,"t":5,"v":374},{"n":45,"t":6,"v":377},{"n":45,"t":7,"v":378},{"n":45,"t":8,"v":376},{"n":45,"t":9,"v":375},{"n":45,"t":10,"v":377},{"n":45,"t":11,"v":375},{"n":45,"t":12,"v":376},{"n":45,"t":13,"v":378},{"n":45,"t":14,"v":374},{"n":45,"t":15,"v":377},{"n":45,"t":16,"v":376},{"n":45,"t":17,"v":377},{"n":45,"t":18,"v":375},{"n":45,"t":19,"v":378},{"n":45,"t":20,"v":376},{"n":45,"t":21,"v":374},{"n":45,"t":22,"v":377},{"n":45,"t":23,"v":376},{"n":45,"t":24,"v":375},
{"n":46,"t":0,"v":367},{"n":46,"t":1,"v":364},{"n":46,"t":2,"v":366},{"n":46,"t":3,"v":368},{"n":46,"t":4,"v":367},{"n":46,"t":5,"v":365},{"n":46,"t":6,"v":366},{"n":46,"t":7,"v":368},{"n":46,"t":8,"v":365},{"n":46,"t":9,"v":366},{"n":46,"t":10,"v":367},{"n":46,"t":11,"v":364},{"n":46,"t":12,"v":367},{"n":46,"t":13,"v":366},{"n":46,"t":14,"v":365},{"n":46,"t":15,"v":368},{"n":46,"t":16,"v":366},{"n":46,"t":17,"v":365},{"n":46,"t":18,"v":367},{"n":46,"t":19,"v":366},{"n":46,"t":20,"v":368},{"n":46,"t":21,"v":365},{"n":46,"t":22,"v":366},{"n":46,"t":23,"v":367},{"n":46,"t":24,"v":364},
{"n":47,"t":0,"v":355},{"n":47,"t":1,"v":356},{"n":47,"t":2,"v":354},{"n":47,"t":3,"v":357},{"n":47,"t":4,"v":353},{"n":47,"t":5,"v":355},{"n":47,"t":6,"v":356},{"n":47,"t":7,"v":354},{"n":47,"t":8,"v":355},{"n":47,"t":9,"v":357},{"n":47,"t":10,"v":354},{"n":47,"t":11,"v":356},{"n":47,"t":12,"v":355},{"n":47,"t":13,"v":353},{"n":47,"t":14,"v":356},{"n":47,"t":15,"v":357},{"n":47,"t":16,"v":354},{"n":47,"t":17,"v":355},{"n":47,"t":18,"v":356},{"n":47,"t":19,"v":354},{"n":47,"t":20,"v":355},{"n":47,"t":21,"v":357},{"n":47,"t":22,"v":353},{"n":47,"t":23,"v":356},{"n":47,"t":24,"v":355},
{"n":48,"t":0,"v":347},{"n":48,"t":1,"v":345},{"n":48,"t":2,"v":346},{"n":48,"t":3,"v":344},{"n":48,"t":4,"v":345},{"n":48,"t":5,"v":343},{"n":48,"t":6,"v":347},{"n":48,"t":7,"v":346},{"n":48,"t":8,"v":344},{"n":48,"t":9,"v":345},{"n":48,"t":10,"v":346},{"n":48,"t":11,"v":344},{"n":48,"t":12,"v":347},{"n":48,"t":13,"v":345},{"n":48,"t":14,"v":343},{"n":48,"t":15,"v":346},{"n":48,"t":16,"v":345},{"n":48,"t":17,"v":344},{"n":48,"t":18,"v":347},{"n":48,"t":19,"v":346},{"n":48,"t":20,"v":344},{"n":48,"t":21,"v":345},{"n":48,"t":22,"v":346},{"n":48,"t":23,"v":343},{"n":48,"t":24,"v":345},
{"n":49,"t":0,"v":333},{"n":49,"t":1,"v":335},{"n":49,"t":2,"v":334},{"n":49,"t":3,"v":338},{"n":49,"t":4,"v":335},{"n":49,"t":5,"v":333},{"n":49,"t":6,"v":336},{"n":49,"t":7,"v":334},{"n":49,"t":8,"v":332},{"n":49,"t":9,"v":335},{"n":49,"t":10,"v":334},{"n":49,"t":11,"v":333},{"n":49,"t":12,"v":336},{"n":49,"t":13,"v":335},{"n":49,"t":14,"v":333},{"n":49,"t":15,"v":334},{"n":49,"t":16,"v":336},{"n":49,"t":17,"v":332},{"n":49,"t":18,"v":334},{"n":49,"t":19,"v":335},{"n":49,"t":20,"v":333},{"n":49,"t":21,"v":336},{"n":49,"t":22,"v":334},{"n":49,"t":23,"v":333},{"n":49,"t":24,"v":335},
{"n":50,"t":0,"v":325},{"n":50,"t":1,"v":324},{"n":50,"t":2,"v":322},{"n":50,"t":3,"v":325},{"n":50,"t":4,"v":326},{"n":50,"t":5,"v":324},{"n":50,"t":6,"v":323},{"n":50,"t":7,"v":325},{"n":50,"t":8,"v":324},{"n":50,"t":9,"v":322},{"n":50,"t":10,"v":326},{"n":50,"t":11,"v":323},{"n":50,"t":12,"v":324},{"n":50,"t":13,"v":325},{"n":50,"t":14,"v":323},{"n":50,"t":15,"v":326},{"n":50,"t":16,"v":324},{"n":50,"t":17,"v":322},{"n":50,"t":18,"v":325},{"n":50,"t":19,"v":324},{"n":50,"t":20,"v":325},{"n":50,"t":21,"v":323},{"n":50,"t":22,"v":326},{"n":50,"t":23,"v":324},{"n":50,"t":24,"v":323},
{"n":51,"t":0,"v":314},{"n":51,"t":1,"v":313},{"n":51,"t":2,"v":316},{"n":51,"t":3,"v":314},{"n":51,"t":4,"v":312},{"n":51,"t":5,"v":315},{"n":51,"t":6,"v":316},{"n":51,"t":7,"v":313},{"n":51,"t":8,"v":314},{"n":51,"t":9,"v":315},{"n":51,"t":10,"v":313},{"n":51,"t":11,"v":314},{"n":51,"t":12,"v":316},{"n":51,"t":13,"v":312},{"n":51,"t":14,"v":315},{"n":51,"t":15,"v":314},{"n":51,"t":16,"v":313},{"n":51,"t":17,"v":315},{"n":51,"t":18,"v":316},{"n":51,"t":19,"v":313},{"n":51,"t":20,"v":314},{"n":51,"t":21,"v":312},{"n":51,"t":22,"v":315},{"n":51,"t":23,"v":316},{"n":51,"t":24,"v":314},
{"n":52,"t":0,"v":305},{"n":52,"t":1,"v":304},{"n":52,"t":2,"v":302},{"n":52,"t":3,"v":303},{"n":52,"t":4,"v":304},{"n":52,"t":5,"v":301},{"n":52,"t":6,"v":303},{"n":52,"t":7,"v":305},{"n":52,"t":8,"v":302},{"n":52,"t":9,"v":304},{"n":52,"t":10,"v":303},{"n":52,"t":11,"v":301},{"n":52,"t":12,"v":304},{"n":52,"t":13,"v":305},{"n":52,"t":14,"v":302},{"n":52,"t":15,"v":303},{"n":52,"t":16,"v":304},{"n":52,"t":17,"v":302},{"n":52,"t":18,"v":303},{"n":52,"t":19,"v":305},{"n":52,"t":20,"v":301},{"n":52,"t":21,"v":304},{"n":52,"t":22,"v":303},{"n":52,"t":23,"v":302},{"n":52,"t":24,"v":304},
{"n":53,"t":0,"v":291},{"n":53,"t":1,"v":293},{"n":53,"t":2,"v":294},{"n":53,"t":3,"v":292},{"n":53,"t":4,"v":295},{"n":53,"t":5,"v":293},{"n":53,"t":6,"v":292},{"n":53,"t":7,"v":294},{"n":53,"t":8,"v":295},{"n":53,"t":9,"v":291},{"n":53,"t":10,"v":293},{"n":53,"t":11,"v":294},{"n":53,"t":12,"v":292},{"n":53,"t":13,"v":293},{"n":53,"t":14,"v":295},{"n":53,"t":15,"v":294},{"n":53,"t":16,"v":291},{"n":53,"t":17,"v":293},{"n":53,"t":18,"v":294},{"n":53,"t":19,"v":292},{"n":53,"t":20,"v":295},{"n":53,"t":21,"v":293},{"n":53,"t":22,"v":292},{"n":53,"t":23,"v":294},{"n":53,"t":24,"v":293},
{"n":54,"t":0,"v":284},{"n":54,"t":1,"v":285},{"n":54,"t":2,"v":283},{"n":54,"t":3,"v":282},{"n":54,"t":4,"v":284},{"n":54,"t":5,"v":281},{"n":54,"t":6,"v":283},{"n":54,"t":7,"v":284},{"n":54,"t":8,"v":282},{"n":54,"t":9,"v":285},{"n":54,"t":10,"v":283},{"n":54,"t":11,"v":282},{"n":54,"t":12,"v":284},{"n":54,"t":13,"v":281},{"n":54,"t":14,"v":283},{"n":54,"t":15,"v":285},{"n":54,"t":16,"v":284},{"n":54,"t":17,"v":282},{"n":54,"t":18,"v":283},{"n":54,"t":19,"v":284},{"n":54,"t":20,"v":281},{"n":54,"t":21,"v":283},{"n":54,"t":22,"v":285},{"n":54,"t":23,"v":282},{"n":54,"t":24,"v":283},
{"n":55,"t":0,"v":277},{"n":55,"t":1,"v":271},{"n":55,"t":2,"v":272},{"n":55,"t":3,"v":274},{"n":55,"t":4,"v":271},{"n":55,"t":5,"v":273},{"n":55,"t":6,"v":272},{"n":55,"t":7,"v":270},{"n":55,"t":8,"v":273},{"n":55,"t":9,"v":274},{"n":55,"t":10,"v":271},{"n":55,"t":11,"v":272},{"n":55,"t":12,"v":273},{"n":55,"t":13,"v":271},{"n":55,"t":14,"v":274},{"n":55,"t":15,"v":272},{"n":55,"t":16,"v":270},{"n":55,"t":17,"v":273},{"n":55,"t":18,"v":272},{"n":55,"t":19,"v":271},{"n":55,"t":20,"v":274},{"n":55,"t":21,"v":273},{"n":55,"t":22,"v":271},{"n":55,"t":23,"v":272},{"n":55,"t":24,"v":273},
{"n":56,"t":0,"v":262},{"n":56,"t":1,"v":263},{"n":56,"t":2,"v":260},{"n":56,"t":3,"v":263},{"n":56,"t":4,"v":262},{"n":56,"t":5,"v":264},{"n":56,"t":6,"v":261},{"n":56,"t":7,"v":262},{"n":56,"t":8,"v":263},{"n":56,"t":9,"v":261},{"n":56,"t":10,"v":264},{"n":56,"t":11,"v":262},{"n":56,"t":12,"v":260},{"n":56,"t":13,"v":263},{"n":56,"t":14,"v":262},{"n":56,"t":15,"v":261},{"n":56,"t":16,"v":264},{"n":56,"t":17,"v":263},{"n":56,"t":18,"v":261},{"n":56,"t":19,"v":262},{"n":56,"t":20,"v":263},{"n":56,"t":21,"v":260},{"n":56,"t":22,"v":262},{"n":56,"t":23,"v":264},{"n":56,"t":24,"v":261},
{"n":57,"t":0,"v":250},{"n":57,"t":1,"v":253},{"n":57,"t":2,"v":251},{"n":57,"t":3,"v":252},{"n":57,"t":4,"v":249},{"n":57,"t":5,"v":251},{"n":57,"t":6,"v":252},{"n":57,"t":7,"v":250},{"n":57,"t":8,"v":253},{"n":57,"t":9,"v":251},{"n":57,"t":10,"v":250},{"n":57,"t":11,"v":252},{"n":57,"t":12,"v":251},{"n":57,"t":13,"v":253},{"n":57,"t":14,"v":249},{"n":57,"t":15,"v":252},{"n":57,"t":16,"v":251},{"n":57,"t":17,"v":250},{"n":57,"t":18,"v":252},{"n":57,"t":19,"v":253},{"n":57,"t":20,"v":251},{"n":57,"t":21,"v":249},{"n":57,"t":22,"v":252},{"n":57,"t":23,"v":251},{"n":57,"t":24,"v":250},
{"n":58,"t":0,"v":242},{"n":58,"t":1,"v":240},{"n":58,"t":2,"v":243},{"n":58,"t":3,"v":241},{"n":58,"t":4,"v":239},{"n":58,"t":5,"v":242},{"n":58,"t":6,"v":241},{"n":58,"t":7,"v":243},{"n":58,"t":8,"v":240},{"n":58,"t":9,"v":241},{"n":58,"t":10,"v":242},{"n":58,"t":11,"v":239},{"n":58,"t":12,"v":243},{"n":58,"t":13,"v":241},{"n":58,"t":14,"v":240},{"n":58,"t":15,"v":242},{"n":58,"t":16,"v":240},{"n":58,"t":17,"v":241},{"n":58,"t":18,"v":243},{"n":58,"t":19,"v":239},{"n":58,"t":20,"v":242},{"n":58,"t":21,"v":241},{"n":58,"t":22,"v":242},{"n":58,"t":23,"v":240},{"n":58,"t":24,"v":243},
{"n":59,"t":0,"v":231},{"n":59,"t":1,"v":233},{"n":59,"t":2,"v":232},{"n":59,"t":3,"v":230},{"n":59,"t":4,"v":231},{"n":59,"t":5,"v":229},{"n":59,"t":6,"v":232},{"n":59,"t":7,"v":231},{"n":59,"t":8,"v":233},{"n":59,"t":9,"v":230},{"n":59,"t":10,"v":232},{"n":59,"t":11,"v":231},{"n":59,"t":12,"v":229},{"n":59,"t":13,"v":232},{"n":59,"t":14,"v":233},{"n":59,"t":15,"v":230},{"n":59,"t":16,"v":231},{"n":59,"t":17,"v":232},{"n":59,"t":18,"v":230},{"n":59,"t":19,"v":231},{"n":59,"t":20,"v":233},{"n":59,"t":21,"v":229},{"n":59,"t":22,"v":231},{"n":59,"t":23,"v":232},{"n":59,"t":24,"v":231},
{"n":60,"t":0,"v":222},{"n":60,"t":1,"v":219},{"n":60,"t":2,"v":220},{"n":60,"t":3,"v":221},{"n":60,"t":4,"v":219},{"n":60,"t":5,"v":222},{"n":60,"t":6,"v":218},{"n":60,"t":7,"v":220},{"n":60,"t":8,"v":221},{"n":60,"t":9,"v":220},{"n":60,"t":10,"v":219},{"n":60,"t":11,"v":222},{"n":60,"t":12,"v":221},{"n":60,"t":13,"v":218},{"n":60,"t":14,"v":220},{"n":60,"t":15,"v":221},{"n":60,"t":16,"v":219},{"n":60,"t":17,"v":222},{"n":60,"t":18,"v":220},{"n":60,"t":19,"v":219},{"n":60,"t":20,"v":221},{"n":60,"t":21,"v":220},{"n":60,"t":22,"v":218},{"n":60,"t":23,"v":221},{"n":60,"t":24,"v":222},
{"n":61,"t":0,"v":209},{"n":61,"t":1,"v":210},{"n":61,"t":2,"v":212},{"n":61,"t":3,"v":208},{"n":61,"t":4,"v":211},{"n":61,"t":5,"v":210},{"n":61,"t":6,"v":209},{"n":61,"t":7,"v":212},{"n":61,"t":8,"v":210},{"n":61,"t":9,"v":211},{"n":61,"t":10,"v":208},{"n":61,"t":11,"v":210},{"n":61,"t":12,"v":211},{"n":61,"t":13,"v":209},{"n":61,"t":14,"v":212},{"n":61,"t":15,"v":210},{"n":61,"t":16,"v":208},{"n":61,"t":17,"v":211},{"n":61,"t":18,"v":210},{"n":61,"t":19,"v":212},{"n":61,"t":20,"v":209},{"n":61,"t":21,"v":211},{"n":61,"t":22,"v":210},{"n":61,"t":23,"v":209},{"n":61,"t":24,"v":211},
{"n":62,"t":0,"v":201},{"n":62,"t":1,"v":202},{"n":62,"t":2,"v":199},{"n":62,"t":3,"v":200},{"n":62,"t":4,"v":202},{"n":62,"t":5,"v":199},{"n":62,"t":6,"v":201},{"n":62,"t":7,"v":198},{"n":62,"t":8,"v":200},{"n":62,"t":9,"v":201},{"n":62,"t":10,"v":202},{"n":62,"t":11,"v":199},{"n":62,"t":12,"v":200},{"n":62,"t":13,"v":198},{"n":62,"t":14,"v":201},{"n":62,"t":15,"v":200},{"n":62,"t":16,"v":202},{"n":62,"t":17,"v":199},{"n":62,"t":18,"v":201},{"n":62,"t":19,"v":200},{"n":62,"t":20,"v":198},{"n":62,"t":21,"v":201},{"n":62,"t":22,"v":202},{"n":62,"t":23,"v":200},{"n":62,"t":24,"v":199},
{"n":63,"t":0,"v":189},{"n":63,"t":1,"v":187},{"n":63,"t":2,"v":190},{"n":63,"t":3,"v":191},{"n":63,"t":4,"v":188},{"n":63,"t":5,"v":189},{"n":63,"t":6,"v":190},{"n":63,"t":7,"v":188},{"n":63,"t":8,"v":191},{"n":63,"t":9,"v":187},{"n":63,"t":10,"v":189},{"n":63,"t":11,"v":190},{"n":63,"t":12,"v":188},{"n":63,"t":13,"v":191},{"n":63,"t":14,"v":189},{"n":63,"t":15,"v":190},{"n":63,"t":16,"v":187},{"n":63,"t":17,"v":189},{"n":63,"t":18,"v":190},{"n":63,"t":19,"v":188},{"n":63,"t":20,"v":191},{"n":63,"t":21,"v":189},{"n":63,"t":22,"v":188},{"n":63,"t":23,"v":190},{"n":63,"t":24,"v":189},
{"n":64,"t":0,"v":165},{"n":64,"t":0.5,"v":160},{"n":64,"t":1,"v":166},{"n":64,"t":1.5,"v":159},{"n":64,"t":2,"v":164},{"n":64,"t":2.5,"v":161},{"n":64,"t":3,"v":167},{"n":64,"t":3.5,"v":160},{"n":64,"t":4,"v":163},{"n":64,"t":4.5,"v":158},{"n":64,"t":5,"v":165},{"n":64,"t":5.5,"v":161},{"n":64,"t":6,"v":164},{"n":64,"t":6.5,"v":160},{"n":64,"t":7,"v":167},{"n":64,"t":7.5,"v":162},{"n":64,"t":8,"v":169},{"n":64,"t":8.5,"v":163},{"n":64,"t":9,"v":168},{"n":64,"t":9.5,"v":162},{"n":64,"t":10,"v":170},{"n":64,"t":10.5,"v":164},{"n":64,"t":11,"v":168},{"n":64,"t":11.5,"v":163},{"n":64,"t":12,"v":171},{"n":64,"t":12.5,"v":165},{"n":64,"t":13,"v":168},{"n":64,"t":13.5,"v":162},{"n":64,"t":14,"v":169},{"n":64,"t":14.5,"v":164},{"n":64,"t":15,"v":170},{"n":64,"t":15.5,"v":165},{"n":64,"t":16,"v":172},{"n":64,"t":16.5,"v":166},{"n":64,"t":17,"v":174},{"n":64,"t":17.5,"v":167},{"n":64,"t":18,"v":173},{"n":64,"t":18.5,"v":165},{"n":64,"t":19,"v":172},{"n":64,"t":19.5,"v":164},{"n":64,"t":20,"v":170},{"n":64,"t":20.5,"v":163},{"n":64,"t":21,"v":169},{"n":64,"t":21.5,"v":162},{"n":64,"t":22,"v":167},{"n":64,"t":22.5,"v":161},{"n":64,"t":23,"v":168},{"n":64,"t":23.5,"v":163},{"n":64,"t":24,"v":166},
{"n":65,"t":0,"v":138},{"n":65,"t":1,"v":136},{"n":65,"t":2,"v":139},{"n":65,"t":3,"v":137},{"n":65,"t":4,"v":135},{"n":65,"t":5,"v":138},{"n":65,"t":6,"v":137},{"n":65,"t":7,"v":136},{"n":65,"t":8,"v":139},{"n":65,"t":9,"v":138},{"n":65,"t":10,"v":136},{"n":65,"t":11,"v":137},{"n":65,"t":12,"v":135},{"n":65,"t":13,"v":138},{"n":65,"t":14,"v":139},{"n":65,"t":15,"v":137},{"n":65,"t":16,"v":136},{"n":65,"t":17,"v":138},{"n":65,"t":18,"v":137},{"n":65,"t":19,"v":135},{"n":65,"t":20,"v":138},{"n":65,"t":21,"v":139},{"n":65,"t":22,"v":136},{"n":65,"t":23,"v":137},{"n":65,"t":24,"v":138},
{"n":66,"t":0,"v":126},{"n":66,"t":1,"v":128},{"n":66,"t":2,"v":125},{"n":66,"t":3,"v":127},{"n":66,"t":4,"v":126},{"n":66,"t":5,"v":124},{"n":66,"t":6,"v":127},{"n":66,"t":7,"v":128},{"n":66,"t":8,"v":125},{"n":66,"t":9,"v":126},{"n":66,"t":10,"v":127},{"n":66,"t":11,"v":125},{"n":66,"t":12,"v":128},{"n":66,"t":13,"v":126},{"n":66,"t":14,"v":124},{"n":66,"t":15,"v":127},{"n":66,"t":16,"v":126},{"n":66,"t":17,"v":125},{"n":66,"t":18,"v":128},{"n":66,"t":19,"v":127},{"n":66,"t":20,"v":124},{"n":66,"t":21,"v":126},{"n":66,"t":22,"v":127},{"n":66,"t":23,"v":125},{"n":66,"t":24,"v":126},
{"n":67,"t":0,"v":114},{"n":67,"t":1,"v":116},{"n":67,"t":2,"v":115},{"n":67,"t":3,"v":117},{"n":67,"t":4,"v":113},{"n":67,"t":5,"v":115},{"n":67,"t":6,"v":116},{"n":67,"t":7,"v":114},{"n":67,"t":8,"v":117},{"n":67,"t":9,"v":115},{"n":67,"t":10,"v":114},{"n":67,"t":11,"v":116},{"n":67,"t":12,"v":115},{"n":67,"t":13,"v":113},{"n":67,"t":14,"v":117},{"n":67,"t":15,"v":116},{"n":67,"t":16,"v":114},{"n":67,"t":17,"v":115},{"n":67,"t":18,"v":116},{"n":67,"t":19,"v":114},{"n":67,"t":20,"v":115},{"n":67,"t":21,"v":117},{"n":67,"t":22,"v":113},{"n":67,"t":23,"v":116},{"n":67,"t":24,"v":115},
{"n":68,"t":0,"v":104},{"n":68,"t":1,"v":103},{"n":68,"t":2,"v":102},{"n":68,"t":3,"v":105},{"n":68,"t":4,"v":103},{"n":68,"t":5,"v":101},{"n":68,"t":6,"v":104},{"n":68,"t":7,"v":103},{"n":68,"t":8,"v":102},{"n":68,"t":9,"v":105},{"n":68,"t":10,"v":103},{"n":68,"t":11,"v":104},{"n":68,"t":12,"v":102},{"n":68,"t":13,"v":103},{"n":68,"t":14,"v":105},{"n":68,"t":15,"v":102},{"n":68,"t":16,"v":103},{"n":68,"t":17,"v":104},{"n":68,"t":17.2,"v":112},{"n":68,"t":17.6,"v":109},{"n":68,"t":18,"v":108},{"n":68,"t":19,"v":106},{"n":68,"t":20,"v":105},{"n":68,"t":21,"v":103},{"n":68,"t":22,"v":104},{"n":68,"t":23,"v":102},{"n":68,"t":24,"v":103},
{"n":69,"t":0,"v":94},{"n":69,"t":1,"v":92},{"n":69,"t":2,"v":91},{"n":69,"t":3,"v":93},{"n":69,"t":4,"v":90},{"n":69,"t":5,"v":93},{"n":69,"t":6,"v":92},{"n":69,"t":7,"v":94},{"n":69,"t":8,"v":91},{"n":69,"t":9,"v":92},{"n":69,"t":10,"v":93},{"n":69,"t":11,"v":90},{"n":69,"t":12,"v":92},{"n":69,"t":13,"v":93},{"n":69,"t":14,"v":91},{"n":69,"t":15,"v":94},{"n":69,"t":16,"v":92},{"n":69,"t":17,"v":90},{"n":69,"t":18,"v":93},{"n":69,"t":19,"v":92},{"n":69,"t":20,"v":91},{"n":69,"t":21,"v":93},{"n":69,"t":22,"v":94},{"n":69,"t":23,"v":92},{"n":69,"t":24,"v":91},
{"n":70,"t":0,"v":81},{"n":70,"t":1,"v":80},{"n":70,"t":2,"v":83},{"n":70,"t":3,"v":81},{"n":70,"t":4,"v":82},{"n":70,"t":5,"v":80},{"n":70,"t":6,"v":79},{"n":70,"t":7,"v":82},{"n":70,"t":8,"v":81},{"n":70,"t":9,"v":83},{"n":70,"t":10,"v":80},{"n":70,"t":11,"v":81},{"n":70,"t":12,"v":82},{"n":70,"t":13,"v":79},{"n":70,"t":14,"v":82},{"n":70,"t":15,"v":81},{"n":70,"t":16,"v":83},{"n":70,"t":17,"v":80},{"n":70,"t":18,"v":81},{"n":70,"t":19,"v":82},{"n":70,"t":20,"v":79},{"n":70,"t":21,"v":81},{"n":70,"t":22,"v":82},{"n":70,"t":23,"v":83},{"n":70,"t":24,"v":80},
{"n":71,"t":0,"v":71},{"n":71,"t":1,"v":72},{"n":71,"t":2,"v":70},{"n":71,"t":3,"v":68},{"n":71,"t":4,"v":71},{"n":71,"t":5,"v":70},{"n":71,"t":6,"v":69},{"n":71,"t":7,"v":72},{"n":71,"t":8,"v":71},{"n":71,"t":9,"v":69},{"n":71,"t":10,"v":70},{"n":71,"t":11,"v":68},{"n":71,"t":12,"v":71},{"n":71,"t":13,"v":72},{"n":71,"t":14,"v":70},{"n":71,"t":15,"v":69},{"n":71,"t":16,"v":71},{"n":71,"t":17,"v":70},{"n":71,"t":18,"v":68},{"n":71,"t":19,"v":71},{"n":71,"t":20,"v":72},{"n":71,"t":21,"v":69},{"n":71,"t":22,"v":70},{"n":71,"t":23,"v":71},{"n":71,"t":24,"v":70},
{"n":72,"t":0,"v":58},{"n":72,"t":1,"v":59},{"n":72,"t":2,"v":60},{"n":72,"t":3,"v":61},{"n":72,"t":4,"v":58},{"n":72,"t":5,"v":60},{"n":72,"t":6,"v":59},{"n":72,"t":7,"v":57},{"n":72,"t":8,"v":61},{"n":72,"t":9,"v":59},{"n":72,"t":10,"v":58},{"n":72,"t":11,"v":60},{"n":72,"t":12,"v":58},{"n":72,"t":13,"v":59},{"n":72,"t":14,"v":61},{"n":72,"t":15,"v":57},{"n":72,"t":16,"v":60},{"n":72,"t":17,"v":59},{"n":72,"t":18,"v":60},{"n":72,"t":19,"v":58},{"n":72,"t":20,"v":61},{"n":72,"t":21,"v":59},{"n":72,"t":22,"v":57},{"n":72,"t":23,"v":60},{"n":72,"t":24,"v":59},
{"n":73,"t":0,"v":48},{"n":73,"t":1,"v":50},{"n":73,"t":2,"v":47},{"n":73,"t":3,"v":49},{"n":73,"t":4,"v":48},{"n":73,"t":5,"v":46},{"n":73,"t":6,"v":49},{"n":73,"t":7,"v":50},{"n":73,"t":8,"v":47},{"n":73,"t":9,"v":48},{"n":73,"t":10,"v":49},{"n":73,"t":11,"v":47},{"n":73,"t":12,"v":50},{"n":73,"t":13,"v":48},{"n":73,"t":14,"v":46},{"n":73,"t":15,"v":49},{"n":73,"t":16,"v":48},{"n":73,"t":17,"v":49},{"n":73,"t":17.3,"v":57},{"n":73,"t":17.7,"v":53},{"n":73,"t":18,"v":51},{"n":73,"t":19,"v":50},{"n":73,"t":20,"v":48},{"n":73,"t":21,"v":49},{"n":73,"t":22,"v":47},{"n":73,"t":23,"v":48},{"n":73,"t":24,"v":49},
{"n":74,"t":0,"v":38},{"n":74,"t":1,"v":36},{"n":74,"t":2,"v":37},{"n":74,"t":3,"v":39},{"n":74,"t":4,"v":35},{"n":74,"t":5,"v":38},{"n":74,"t":6,"v":37},{"n":74,"t":7,"v":36},{"n":74,"t":8,"v":38},{"n":74,"t":9,"v":39},{"n":74,"t":10,"v":36},{"n":74,"t":11,"v":37},{"n":74,"t":12,"v":35},{"n":74,"t":13,"v":38},{"n":74,"t":14,"v":37},{"n":74,"t":15,"v":39},{"n":74,"t":16,"v":36},{"n":74,"t":17,"v":38},{"n":74,"t":18,"v":37},{"n":74,"t":19,"v":36},{"n":74,"t":20,"v":39},{"n":74,"t":21,"v":37},{"n":74,"t":22,"v":35},{"n":74,"t":23,"v":38},{"n":74,"t":24,"v":37},
{"n":75,"t":0,"v":26},{"n":75,"t":1,"v":27},{"n":75,"t":1.7,"v":34},{"n":75,"t":2,"v":31},{"n":75,"t":3,"v":28},{"n":75,"t":4,"v":26},{"n":75,"t":5,"v":25},{"n":75,"t":6,"v":27},{"n":75,"t":7,"v":26},{"n":75,"t":8,"v":28},{"n":75,"t":9,"v":25},{"n":75,"t":10,"v":26},{"n":75,"t":11,"v":27},{"n":75,"t":12,"v":25},{"n":75,"t":13,"v":28},{"n":75,"t":14,"v":26},{"n":75,"t":15,"v":24},{"n":75,"t":16,"v":27},{"n":75,"t":17,"v":26},{"n":75,"t":18,"v":25},{"n":75,"t":19,"v":27},{"n":75,"t":20,"v":28},{"n":75,"t":21,"v":26},{"n":75,"t":22,"v":25},{"n":75,"t":23,"v":27},{"n":75,"t":24,"v":26},
{"n":76,"t":0,"v":17},{"n":76,"t":1,"v":15},{"n":76,"t":2,"v":14},{"n":76,"t":3,"v":16},{"n":76,"t":4,"v":15},{"n":76,"t":5,"v":13},{"n":76,"t":6,"v":16},{"n":76,"t":7,"v":17},{"n":76,"t":8,"v":14},{"n":76,"t":9,"v":15},{"n":76,"t":10,"v":16},{"n":76,"t":11,"v":14},{"n":76,"t":12,"v":17},{"n":76,"t":13,"v":15},{"n":76,"t":14,"v":13},{"n":76,"t":15,"v":16},{"n":76,"t":16,"v":15},{"n":76,"t":17,"v":16},{"n":76,"t":18,"v":14},{"n":76,"t":19,"v":17},{"n":76,"t":20,"v":15},{"n":76,"t":21,"v":13},{"n":76,"t":22,"v":16},{"n":76,"t":23,"v":15},{"n":76,"t":24,"v":14}
]},
"encoding":{
"x":{"field":"t","type":"quantitative","scale":{"domain":[0,24],"nice":false,"zero":false},"axis":null},
"y":{"field":"v","type":"quantitative","scale":{"domain":[0,937],"nice":false,"zero":false},"axis":{"title":"Neuron ID","labels":false,"ticks":false,"domain":false,"grid":false,"titleFont":"Liberation Sans","titleFontSize":40,"titleFontWeight":"normal","titleColor":"#2a2a2a","titleAngle":-90,"titleAlign":"center","titleBaseline":"alphabetic","titleX":-20,"titleY":458}},
"detail":{"field":"n","type":"nominal"}
},
"layer":[
{"mark":{"type":"line","color":"#0d0d0d","strokeWidth":2.3,"strokeJoin":"miter","clip":false}},
{"transform":[{"filter":"datum.n == 21 || datum.n == 64"}],"mark":{"type":"line","color":"#000000","strokeWidth":3.4,"strokeJoin":"miter","clip":false}}
]}
